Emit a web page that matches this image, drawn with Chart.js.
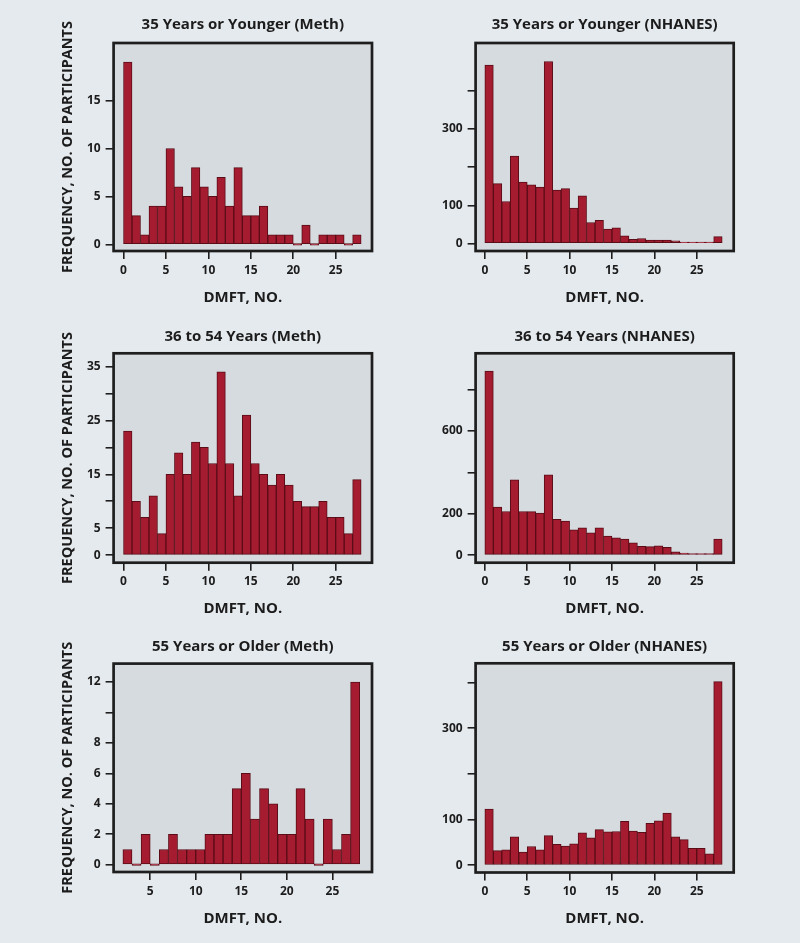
<!DOCTYPE html>
<html><head><meta charset="utf-8">
<script src="https://cdn.jsdelivr.net/npm/chart.js@4/dist/chart.umd.min.js"></script>
<style>
html,body{margin:0;padding:0;background:#E5EAEE;}
body{width:800px;height:943px;position:relative;overflow:hidden;}
canvas{position:absolute;}
</style></head><body>
<canvas id="p1" width="400" height="310" style="left:0px;top:0px"></canvas>
<canvas id="p2" width="400" height="310" style="left:400px;top:0px"></canvas>
<canvas id="p3" width="400" height="315" style="left:0px;top:310px"></canvas>
<canvas id="p4" width="400" height="315" style="left:400px;top:310px"></canvas>
<canvas id="p5" width="400" height="318" style="left:0px;top:625px"></canvas>
<canvas id="p6" width="400" height="318" style="left:400px;top:625px"></canvas>
<script>
// ---------- DATA ----------
const dmftBins = [0,1,2,3,4,5,6,7,8,9,10,11,12,13,14,15,16,17,18,19,20,21,22,23,24,25,26,27];
const dmftBinsOlderMeth = [2,3,4,5,6,7,8,9,10,11,12,13,14,15,16,17,18,19,20,21,22,23,24,25,26,27];

const meth35 = [19,3,1,4,4,10,6,5,8,6,5,7,4,8,3,3,4,1,1,1,0,2,0,1,1,1,0,1];
const nhanes35 = [468,157,110,229,161,154,148,477,140,144,93,125,55,61,38,41,20,11,13,9,9,9,7,3,1,1,3,18];
const meth3654 = [23,10,7,11,4,15,19,15,21,20,17,34,17,11,26,17,15,13,15,13,10,9,9,10,7,7,4,14];
const nhanes3654 = [890,232,211,364,211,210,203,388,173,164,122,132,108,132,92,84,78,59,43,41,45,38,16,10,3,8,5,78];
const meth55 = [1,0,2,0,1,2,1,1,1,2,2,2,5,6,3,5,4,2,2,5,3,0,3,1,2,12];
const nhanes55 = [123,32,34,62,29,41,34,65,46,42,47,71,60,78,73,74,96,75,72,92,97,114,62,56,37,37,25,402];

const xTicksAll = [0,5,10,15,20,25];
const xTicksOlderMeth = [5,10,15,20,25];

const yTicks35Meth = [0,5,10,15];          const yLabels35Meth = ['0','5','10','15'];
const yTicks35Nhanes = [0,100,200,300,400]; const yLabels35Nhanes = ['0','100','','300',''];
const yTicks3654Meth = [0,5,10,15,20,25,30,35]; const yLabels3654Meth = ['0','5','','15','','25','','35'];
const yTicks3654Nhanes = [0,200,400,600,800]; const yLabels3654Nhanes = ['0','200','','600',''];
const yTicks55Meth = [0,2,4,6,8,10,12];    const yLabels55Meth = ['0','2','4','6','8','','12'];
const yTicks55Nhanes = [0,100,200,300,400]; const yLabels55Nhanes = ['0','100','','300',''];

const titles = ['35 Years or Younger (Meth)','35 Years or Younger (NHANES)',
                '36 to 54 Years (Meth)','36 to 54 Years (NHANES)',
                '55 Years or Older (Meth)','55 Years or Older (NHANES)'];
const xTitle = 'DMFT, NO.';
const yTitle = 'FREQUENCY, NO. OF PARTICIPANTS';

// ---------- STYLE ----------
const FONT = '"Open Sans", Lato, sans-serif';
const TXT = '#1c1c1c';
const BAR = '#A51C30';
const EDGE = '#5A0C17';
const PLOT_BG = '#D6DBDF';
const FRAME = '#1e1e1e';

const framePlugin = {
  id: 'frame',
  beforeDraw(chart) {
    const a = chart.chartArea, c = chart.ctx;
    c.save(); c.fillStyle = PLOT_BG;
    c.fillRect(a.left, a.top, a.right - a.left, a.bottom - a.top);
    c.restore();
  },
  afterDatasetsDraw(chart) {
    const a = chart.chartArea, c = chart.ctx;
    c.save(); c.strokeStyle = FRAME; c.lineWidth = 2.7;
    c.strokeRect(a.left, a.top, a.right - a.left, a.bottom - a.top);
    c.restore();
  }
};

function panel(id, title, bins, values, xTicks, yTicks, yLabels, box, range, showYTitle) {
  const cv = document.getElementById(id);
  const W = cv.width, H = cv.height;
  new Chart(cv.getContext('2d'), {
    type: 'bar',
    data: {
      datasets: [{
        data: bins.map((b, i) => ({x: b + 0.5, y: values[i]})),
        backgroundColor: BAR, borderColor: EDGE, borderWidth: 1, borderSkipped: false,
        barPercentage: 1, categoryPercentage: 1, minBarLength: 1.5
      }]
    },
    options: {
      responsive: false, animation: false, devicePixelRatio: 1,
      layout: {padding: {left: 0, top: 0, bottom: 0, right: W - box.right}},
      plugins: {
        legend: {display: false}, tooltip: {enabled: false},
        title: {display: true, text: title, color: TXT, fullSize: false, align: 'center',
          font: {family: FONT, size: 15, weight: 'bold', lineHeight: 1.2},
          padding: {top: box.titleY - 9, bottom: box.top - box.titleY - 9}}
      },
      scales: {
        x: {
          type: 'linear', min: range.x0, max: range.x1, offset: false,
          afterBuildTicks: s => { s.ticks = xTicks.map(v => ({value: v})); },
          afterFit: s => { s.height = H - box.bottom; },
          grid: {drawOnChartArea: false, drawTicks: true, tickLength: 8, color: FRAME, lineWidth: 1.6, offset: false},
          border: {display: false},
          ticks: {autoSkip: false, maxRotation: 0, padding: 4, color: TXT,
            font: {family: FONT, size: 12, weight: 'bold'}, callback: v => String(v)},
          title: {display: true, text: xTitle, color: TXT,
            font: {family: FONT, size: 15, weight: 'bold', lineHeight: 1.2},
            padding: {top: 0, bottom: H - box.xTitleY - 9}}
        },
        y: {
          type: 'linear', min: range.y0, max: range.y1,
          afterBuildTicks: s => { s.ticks = yTicks.map(v => ({value: v})); },
          afterFit: s => { s.width = box.left; },
          grid: {drawOnChartArea: false, drawTicks: true, tickLength: 8, color: FRAME, lineWidth: 1.6},
          border: {display: false},
          ticks: {autoSkip: false, padding: 5, color: TXT,
            font: {family: FONT, size: 12, weight: 'bold'},
            callback: (v, i) => yLabels[i]},
          title: {display: showYTitle, text: yTitle, color: TXT,
            font: {family: FONT, size: 14.5, weight: 'bold', lineHeight: 1.2},
            padding: {top: 68 - 8.7, bottom: 0}}
        }
      }
    },
    plugins: [framePlugin]
  });
}

const boxL1 = {left: 113.6, right: 372, top: 43, bottom: 251, titleY: 24.5, xTitleY: 297.5};
const boxR1 = {left: 75.6, right: 333.7, top: 43, bottom: 251, titleY: 24.5, xTitleY: 297.5};
const boxL2 = {left: 113.6, right: 372, top: 43.3, bottom: 252.7, titleY: 26.7, xTitleY: 298.3};
const boxR2 = {left: 75.6, right: 333.7, top: 43.3, bottom: 252.7, titleY: 26.7, xTitleY: 298.3};
const boxL3 = {left: 113.6, right: 372, top: 38.6, bottom: 247, titleY: 21.7, xTitleY: 293.7};
const boxR3 = {left: 75.6, right: 333.7, top: 38.3, bottom: 247.5, titleY: 21.7, xTitleY: 293.7};

panel('p1', titles[0], dmftBins, meth35, xTicksAll, yTicks35Meth, yLabels35Meth, boxL1,
  {x0: -1.17, x1: 29.28, y0: -0.69, y1: 21.0}, true);
panel('p2', titles[1], dmftBins, nhanes35, xTicksAll, yTicks35Nhanes, yLabels35Nhanes, boxR1,
  {x0: -1.09, x1: 29.36, y0: -19.7, y1: 525.6}, false);
panel('p3', titles[2], dmftBins, meth3654, xTicksAll, yTicks3654Meth, yLabels3654Meth, boxL2,
  {x0: -1.17, x1: 29.28, y0: -1.4, y1: 37.45}, true);
panel('p4', titles[3], dmftBins, nhanes3654, xTicksAll, yTicks3654Nhanes, yLabels3654Nhanes, boxR2,
  {x0: -1.09, x1: 29.36, y0: -36.6, y1: 975.6}, false);
panel('p5', titles[4], dmftBinsOlderMeth, meth55, xTicksOlderMeth, yTicks55Meth, yLabels55Meth, boxL3,
  {x0: 0.98, x1: 29.35, y0: -0.48, y1: 13.21}, true);
panel('p6', titles[5], dmftBins, nhanes55, xTicksAll, yTicks55Nhanes, yLabels55Nhanes, boxR3,
  {x0: -1.09, x1: 29.36, y0: -15.8, y1: 442}, false);
</script>
</body></html>
